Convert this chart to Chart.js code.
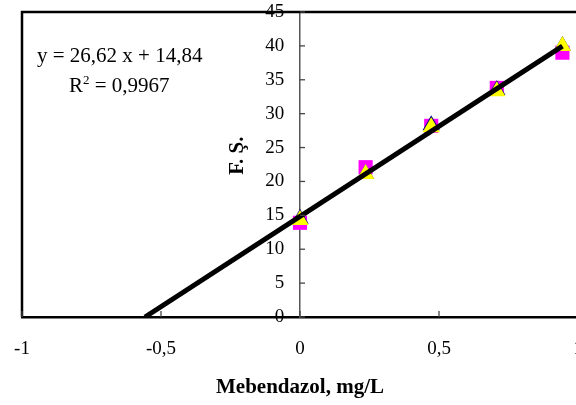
<!DOCTYPE html>
<html><head><meta charset="utf-8">
<script src="https://cdn.jsdelivr.net/npm/chart.js@4"></script>
<style>html,body{margin:0;padding:0;overflow:hidden;background:#fff;width:576px;height:405px}
#wrap{width:600px;height:405px}</style>
</head><body><div id="wrap"><canvas id="c" width="600" height="405"></canvas></div>
<script>
// ---- data ----
const concentrations = [0, 0.236, 0.472, 0.708, 0.944];      // Mebendazol, mg/L
const seriesSquares   = [13.9, 22.1, 28.2, 33.8, 39.0];       // magenta squares
const seriesNavy      = [14.5, 21.1, 28.3, 33.5, 40.0];       // navy markers (mostly hidden)
const seriesTriangles = [14.3, 21.1, 28.0, 33.3, 40.0];       // yellow triangles
const trendX = [-0.5575, 0.944];                               // regression line ends
const trendY = [0, 39.97];
const xTickValues = [-1, -0.5, 0, 0.5, 1];
const yTickValues = [0, 5, 10, 15, 20, 25, 30, 35, 40, 45];
const equationText = 'y = 26,62 x + 14,84';
const r2Value = '0,9967';
const xTitle = 'Mebendazol, mg/L';
const yTitle = 'F. Ş.';

const SERIF = '"Liberation Serif", "Times New Roman", serif';
const toPts = (xs, ys) => xs.map((x, i) => ({x, y: ys[i]}));
const comma = v => String(v).replace('.', ',');

const framePlugin = {
  id: 'frame',
  afterDraw(chart) {
    const {ctx, chartArea: a, scales: {x, y}} = chart;
    ctx.save();
    // frame: left and top
    ctx.strokeStyle = '#000';
    ctx.lineWidth = 2.5;
    ctx.beginPath();
    ctx.moveTo(a.left, a.bottom); ctx.lineTo(a.left, a.top); ctx.lineTo(a.right + 5, a.top);
    ctx.stroke();
    // inner tick marks
    ctx.strokeStyle = '#444';
    ctx.lineWidth = 1.3;
    const x0 = x.getPixelForValue(0);
    y.ticks.forEach(t => {
      const py = y.getPixelForValue(t.value);
      ctx.beginPath(); ctx.moveTo(x0, py); ctx.lineTo(x0 + 5, py); ctx.stroke();
    });
    x.ticks.forEach(t => {
      const px = x.getPixelForValue(t.value);
      ctx.beginPath(); ctx.moveTo(px, a.bottom); ctx.lineTo(px, a.bottom - 6); ctx.stroke();
    });
    // y axis title, reading bottom to top, left of the y axis labels
    ctx.fillStyle = '#000';
    ctx.font = 'bold 21px ' + SERIF;
    ctx.textAlign = 'center';
    ctx.textBaseline = 'middle';
    ctx.translate(x0 - 62, y.getPixelForValue(23.8));
    ctx.rotate(-Math.PI / 2);
    ctx.fillText(yTitle, 0, 0);
    ctx.restore();
  }
};
const equationPlugin = {
  id: 'equation',
  afterDraw(chart) {
    const {ctx} = chart;
    ctx.save();
    ctx.fillStyle = '#000';
    ctx.textBaseline = 'alphabetic';
    ctx.textAlign = 'left';
    ctx.font = '21px ' + SERIF;
    ctx.fillText(equationText, 37, 62);
    ctx.fillText('R', 69, 92);
    const rw = ctx.measureText('R').width;
    ctx.font = '13px ' + SERIF;
    ctx.fillText('2', 69 + rw, 84);
    const sw = ctx.measureText('2').width;
    ctx.font = '21px ' + SERIF;
    ctx.fillText(' = ' + r2Value, 69 + rw + sw, 92);
    ctx.restore();
  }
};

new Chart(document.getElementById('c'), {
  type: 'scatter',
  data: {
    datasets: [
      {label: 'trend', type: 'line', data: toPts(trendX, trendY), borderColor: '#000', borderWidth: 5,
       pointRadius: 0, fill: false, tension: 0, order: 0},
      {label: 'triangles', data: toPts(concentrations, seriesTriangles), pointStyle: 'triangle',
       pointRadius: 10, backgroundColor: '#FFFF00', borderWidth: 0, order: 1},
      {label: 'navy', data: toPts(concentrations, seriesNavy), pointStyle: 'triangle',
       pointRadius: 10, backgroundColor: '#000080', borderWidth: 0, order: 2},
      {label: 'squares', data: toPts(concentrations, seriesSquares), pointStyle: 'rect',
       pointRadius: 10, backgroundColor: '#FF00FF', borderWidth: 0, order: 3}
    ]
  },
  options: {
    responsive: false,
    animation: false,
    events: [],
    layout: {padding: {left: 22, top: 12, right: 22, bottom: 0}},
    plugins: {legend: {display: false}, tooltip: {enabled: false}},
    scales: {
      x: {
        type: 'linear', min: -1, max: 1,
        afterBuildTicks: s => { s.ticks = xTickValues.map(v => ({value: v})); },
        afterFit: s => { s.height = 88; s.paddingLeft = 0; s.paddingRight = 0; },
        ticks: {callback: v => comma(v), color: '#000', font: {family: SERIF, size: 19}, padding: 21, maxRotation: 0},
        grid: {display: false, drawTicks: false},
        border: {display: true, color: '#000', width: 2.5},
        title: {display: true, text: xTitle, color: '#000', font: {family: SERIF, size: 21, weight: 'bold'}, padding: {top: 10, bottom: 5}}
      },
      y: {
        type: 'linear', min: 0, max: 45, position: {x: 0},
        afterBuildTicks: s => { s.ticks = yTickValues.map(v => ({value: v})); },
        // trailing spaces keep the labels clear of the axis line
        ticks: {callback: v => comma(v) + '   \u200A', color: '#000', font: {family: SERIF, size: 19}, padding: 0},
        grid: {display: false, drawTicks: false},
        border: {display: true, color: '#555', width: 1.5},
        title: {display: false}
      }
    }
  },
  plugins: [framePlugin, equationPlugin]
});
</script></body></html>
